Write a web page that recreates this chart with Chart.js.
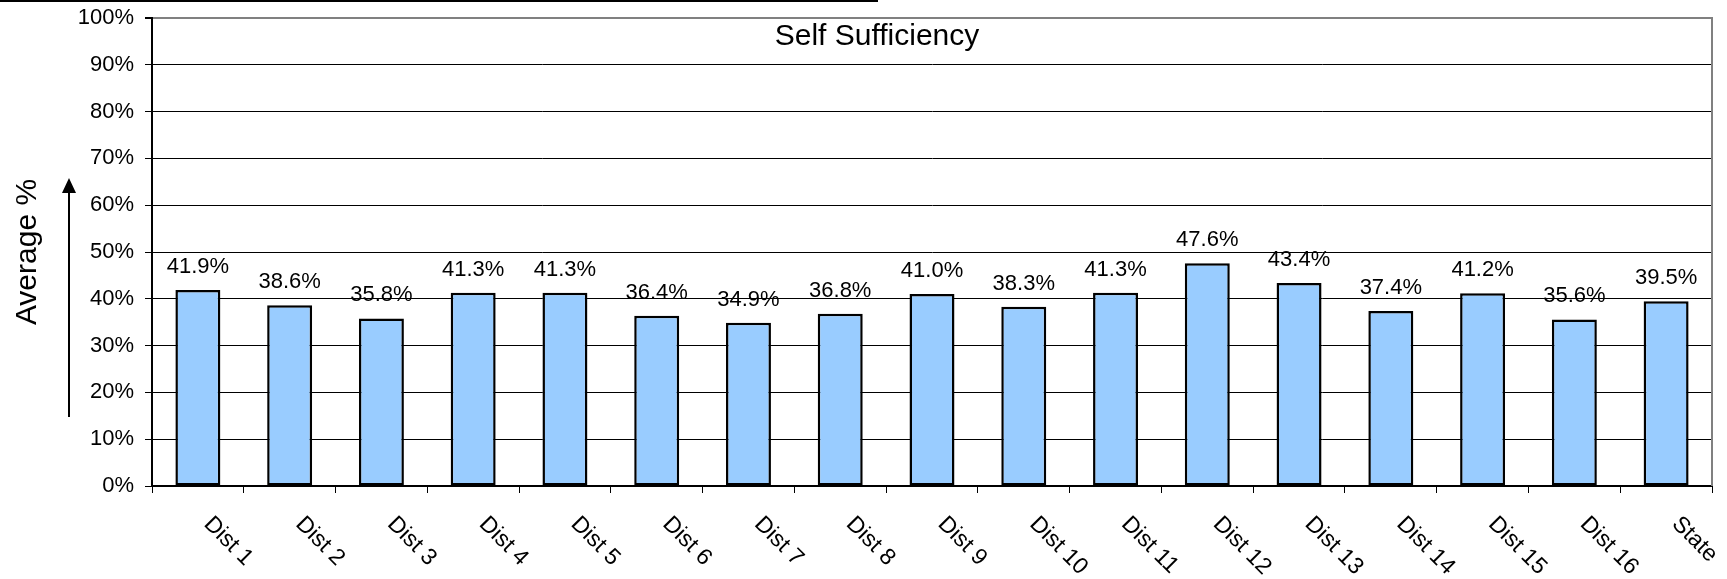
<!DOCTYPE html>
<html>
<head>
<meta charset="utf-8">
<script src="https://cdn.jsdelivr.net/npm/chart.js@4/dist/chart.umd.min.js"></script>
<style>
  html, body { margin: 0; padding: 0; background: #fff; }
  #wrap { position: relative; width: 1727px; height: 579px; }
  #topLine { position: absolute; left: 0; top: 0; width: 878px; height: 2px; background: #000; }
</style>
</head>
<body>
<div id="wrap">
  <canvas id="myChart" width="1727" height="579"></canvas>
  <div id="topLine"></div>
</div>
<script>
const categories = ["Dist 1", "Dist 2", "Dist 3", "Dist 4", "Dist 5", "Dist 6", "Dist 7", "Dist 8", "Dist 9",
  "Dist 10", "Dist 11", "Dist 12", "Dist 13", "Dist 14", "Dist 15", "Dist 16", "State"];
const selfSufficiency = [41.9, 38.6, 35.8, 41.3, 41.3, 36.4, 34.9, 36.8, 41.0, 38.3, 41.3, 47.6, 43.4, 37.4, 41.2, 35.6, 39.5];
const chartTitle = "Self Sufficiency";
const yTitle = "Average %";

const fontFamily = "'Liberation Sans', Arial, sans-serif";
Chart.defaults.color = "#000";
Chart.defaults.font.family = fontFamily;

// bar value labels, rotated category labels, title, y title with arrow
const decorations = {
  id: "decorations",
  afterDatasetsDraw(chart) {
    const ctx = chart.ctx;
    const area = chart.chartArea;
    const xScale = chart.scales.x;
    const meta = chart.getDatasetMeta(0);

    ctx.save();
    // right border of plot
    ctx.strokeStyle = "#808080";
    ctx.lineWidth = 2;
    ctx.beginPath();
    ctx.moveTo(area.right, area.top - 1);
    ctx.lineTo(area.right, area.bottom);
    ctx.stroke();

    // values above bars
    ctx.fillStyle = "#000";
    ctx.font = "22px " + fontFamily;
    ctx.textAlign = "center";
    ctx.textBaseline = "alphabetic";
    meta.data.forEach(function(bar, i) {
      ctx.fillText(selfSufficiency[i].toFixed(1) + "%", bar.x, bar.y - 17);
    });

    // category labels, turned 45 degrees clockwise
    ctx.textAlign = "left";
    ctx.font = "23px " + fontFamily;
    categories.forEach(function(label, i) {
      const x = xScale.getPixelForValue(i);
      ctx.save();
      ctx.translate(x + 5, area.bottom + 39);
      ctx.rotate(Math.PI / 4);
      ctx.fillText(label, 0, 0);
      ctx.restore();
    });

    // chart title inside the plot
    ctx.textAlign = "center";
    ctx.font = "30px " + fontFamily;
    ctx.fillText(chartTitle, 877, 45);

    // y axis title
    ctx.save();
    ctx.translate(36, (area.top + area.bottom) / 2);
    ctx.rotate(-Math.PI / 2);
    ctx.fillText(yTitle, 0, 0);
    ctx.restore();

    // arrow
    ctx.strokeStyle = "#000";
    ctx.lineWidth = 2;
    ctx.beginPath();
    ctx.moveTo(69, 417);
    ctx.lineTo(69, 190);
    ctx.stroke();
    ctx.beginPath();
    ctx.moveTo(69, 178);
    ctx.lineTo(62, 193);
    ctx.lineTo(76, 193);
    ctx.closePath();
    ctx.fill();
    ctx.restore();
  }
};

new Chart("myChart", {
  type: "bar",
  data: {
    labels: categories,
    datasets: [
      {
        data: selfSufficiency,
        backgroundColor: "#99CCFF",
        borderColor: "#000",
        borderWidth: 2.5,
        borderSkipped: false,
        categoryPercentage: 1,
        barPercentage: 0.49
      }
    ]
  },
  options: {
    responsive: false,
    animation: false,
    layout: { padding: { top: 18, right: 15, left: 0, bottom: 0 } },
    plugins: {
      legend: { display: false },
      tooltip: { enabled: false }
    },
    scales: {
      x: {
        afterFit: function(scale) { scale.height = 93; },
        ticks: { display: false },
        grid: {
          offset: true,
          drawOnChartArea: false,
          tickLength: 7,
          color: "#000"
        },
        border: { color: "#000", width: 2 }
      },
      y: {
        min: 0,
        max: 100,
        afterFit: function(scale) {
          scale.width = 152;
          scale.paddingTop = 0;
          scale.paddingBottom = 0;
        },
        ticks: {
          stepSize: 10,
          padding: 11,
          font: { size: 22 },
          callback: function(value) { return value + "%"; }
        },
        grid: {
          tickLength: 7,
          color: function(c) { return c.tick && c.tick.value === 100 ? "#808080" : "#000"; },
          lineWidth: function(c) { return c.tick && c.tick.value === 100 ? 2 : 1; },
          tickColor: "#000"
        },
        border: { color: "#000", width: 2 }
      }
    }
  },
  plugins: [decorations]
});
</script>
</body>
</html>
